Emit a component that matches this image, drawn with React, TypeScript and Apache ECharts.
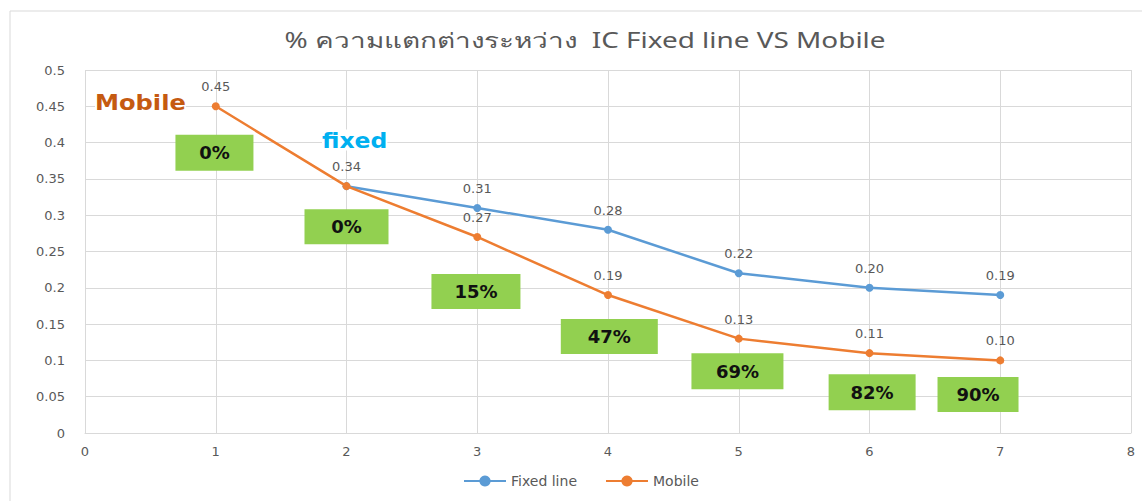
import React, { useEffect, useRef } from "react";
import * as echarts from "echarts";

const xValues = [1, 2, 3, 4, 5, 6, 7];
const fixedX = [2, 3, 4, 5, 6, 7];
const fixedValues = [0.34, 0.31, 0.28, 0.22, 0.2, 0.19];
const mobileValues = [0.45, 0.34, 0.27, 0.19, 0.13, 0.11, 0.1];
const diffLabels = ["0%", "0%", "15%", "47%", "69%", "82%", "90%"];
const diffBoxX = [0.99, 2.0, 2.99, 4.01, 4.99, 6.02, 6.83];
const diffBoxY = [0.386, 0.284, 0.195, 0.133, 0.085, 0.056, 0.053];
const diffBoxSize = [
  [78, 36],
  [84, 35],
  [89, 35],
  [97, 35],
  [92, 36],
  [87, 36],
  [81, 35],
];

export default function App() {
  const ref = useRef<HTMLDivElement>(null);
  useEffect(() => {
    if (!ref.current) return;
    const chart = echarts.init(ref.current, undefined, { renderer: "svg" });
    const labelFont = {
      fontFamily: "DejaVu Sans",
      fontSize: 13,
      color: "#595959",
    };
    chart.setOption({
      animation: false,
      backgroundColor: "#fff",
      graphic: [
        {
          type: "rect",
          shape: { x: 10, y: 11, width: 1140, height: 500 },
          style: { fill: "none", stroke: "#d9d9d9", lineWidth: 1 },
          silent: true,
        },
        {
          type: "text",
          x: 585,
          y: 40,
          scaleX: 1.33,
          style: {
            text: "% ความแตกต่างระหว่าง  IC Fixed line VS Mobile",
            fill: "#595959",
            font: "21px 'Noto Sans', sans-serif",
            textAlign: "center",
            textVerticalAlign: "middle",
          },
        },
        {
          type: "text",
          x: 95,
          y: 103,
          scaleX: 1.15,
          z: 10,
          style: {
            text: "Mobile",
            fill: "#C55A11",
            font: "bold 21px 'DejaVu Sans', sans-serif",
            textVerticalAlign: "middle",
            backgroundColor: "#fff",
          },
        },
        {
          type: "text",
          x: 322,
          y: 140,
          scaleX: 1.12,
          z: 10,
          style: {
            text: "fixed",
            fill: "#00B0F0",
            font: "bold 21px 'DejaVu Sans', sans-serif",
            textVerticalAlign: "middle",
            backgroundColor: "#fff",
          },
        },
      ],
      legend: {
        bottom: 8,
        left: 458,
        itemWidth: 42,
        itemGap: 28,
        textStyle: { ...labelFont, fontSize: 14 },
        data: ["Fixed line", "Mobile"],
      },
      grid: { left: 85, right: 11, top: 70, bottom: 68 },
      xAxis: {
        type: "value",
        min: 0,
        max: 8,
        interval: 1,
        axisLine: { show: true, lineStyle: { color: "#d9d9d9" } },
        axisTick: { show: false },
        axisLabel: { ...labelFont, margin: 12 },
        splitLine: { show: true, lineStyle: { color: "#d9d9d9" } },
      },
      yAxis: {
        type: "value",
        min: 0,
        max: 0.5,
        interval: 0.05,
        axisLine: { show: false },
        axisTick: { show: false },
        axisLabel: {
          ...labelFont,
          margin: 20,
          formatter: (v: number) => String(Math.round(v * 100) / 100),
        },
        splitLine: { show: true, lineStyle: { color: "#d9d9d9" } },
      },
      series: [
        {
          name: "Fixed line",
          type: "line",
          data: fixedX.map((x, i) => [x, fixedValues[i]]),
          symbol: "circle",
          symbolSize: 8,
          itemStyle: { color: "#5B9BD5" },
          lineStyle: { color: "#5B9BD5", width: 2.5 },
          label: {
            show: true,
            position: "top",
            distance: 9,
            ...labelFont,
            formatter: (p: any) => p.value[1].toFixed(2),
          },
          z: 2,
        },
        {
          name: "Mobile",
          type: "line",
          data: xValues.map((x, i) => ({
            value: [x, mobileValues[i]],
            label: { show: x !== 2 },
          })),
          symbol: "circle",
          symbolSize: 8,
          itemStyle: { color: "#ED7D31" },
          lineStyle: { color: "#ED7D31", width: 2.5 },
          label: {
            show: true,
            position: "top",
            distance: 9,
            ...labelFont,
            formatter: (p: any) => p.value[1].toFixed(2),
          },
          z: 3,
        },
        {
          name: "diff",
          type: "scatter",
          silent: true,
          data: diffLabels.map((t, i) => ({
            value: [diffBoxX[i], diffBoxY[i]],
            symbolSize: diffBoxSize[i],
            name: t,
          })),
          symbol: "rect",
          itemStyle: { color: "#92D050", opacity: 1 },
          label: {
            show: true,
            position: "inside",
            formatter: (p: any) => p.name,
            fontFamily: "DejaVu Sans",
            fontWeight: "bold",
            fontSize: 18,
            color: "#111",
          },
          z: 1,
        },
      ],
    });
    return () => chart.dispose();
  }, []);
  return (
    <div
      ref={ref}
      style={{ position: "fixed", left: 0, top: 0, width: 1142, height: 501 }}
    />
  );
}
